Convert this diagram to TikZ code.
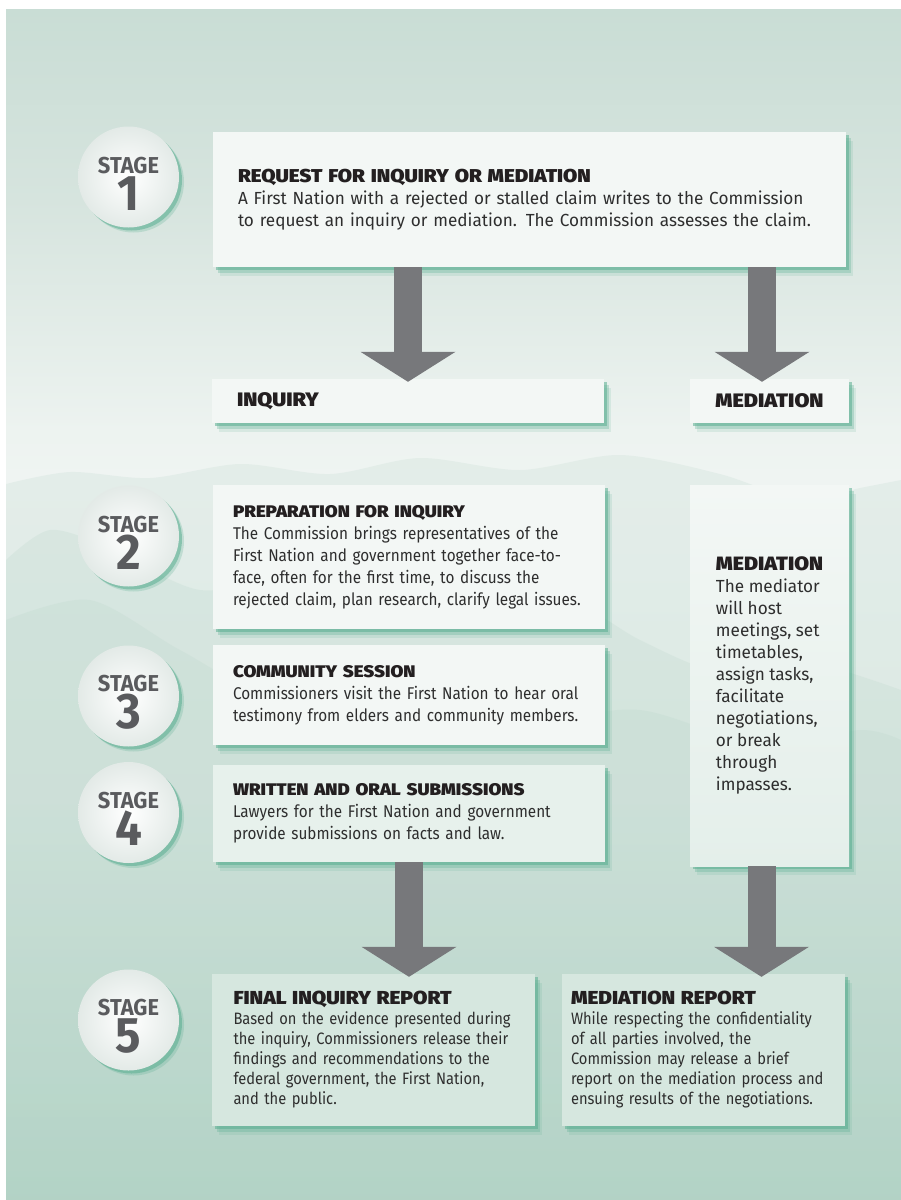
\documentclass[tikz,border=0pt]{standalone}
\usepackage{fontspec}
\usepackage{xcolor}
\usetikzlibrary{arrows.meta,shadows}
\setmainfont{Fira Sans}
\newfontfamily\bodyfont{Fira Sans}[FakeStretch=0.9]
\newfontfamily\widefont{Fira Sans}[FakeStretch=0.98]
\newfontfamily\narrowfont{Fira Sans}[FakeStretch=0.89]
\IfFontExistsTF{Fira Sans Black}
  {\newfontfamily\headfont{Fira Sans Black}[FakeStretch=1.11]}
  {\IfFontExistsTF{Fira Sans ExtraBold}
    {\newfontfamily\headfont{Fira Sans ExtraBold}[FakeStretch=1.15]}
    {\newfontfamily\headfont{Fira Sans Bold}[FakeStretch=1.2]}}
\newfontfamily\stagefont{Fira Sans Bold}[FakeStretch=0.95]
\hyphenpenalty=10000

\definecolor{bgtop}{HTML}{C9DDD5}
\definecolor{bgupper}{HTML}{D6E4DE}
\definecolor{bglight}{HTML}{EDF3F0}
\definecolor{bgmist}{HTML}{EFF4F2}
\definecolor{bglow}{HTML}{E4EEEA}
\definecolor{bgbottom}{HTML}{A8CFBF}
\definecolor{ridge}{HTML}{BCD7CC}
\definecolor{paper}{HTML}{F3F7F5}
\definecolor{paperlow}{HTML}{E4EFEA}
\definecolor{papergreen}{HTML}{D6E7DF}
\definecolor{glow}{HTML}{5BAF92}
\definecolor{discedge}{HTML}{E3EAE7}
\definecolor{arrowgrey}{HTML}{77787B}
\definecolor{ink}{HTML}{231F20}
\definecolor{bodyink}{HTML}{2E2E2E}
\definecolor{stageink}{HTML}{5A5B5E}

\pgfdeclareverticalshading{panelshade}{100bp}{color(0bp)=(bgbottom); color(25bp)=(bgbottom);
  color(41.8bp)=(bglow); color(55.2bp)=(bgmist); color(57.3bp)=(bglight);
  color(67bp)=(bgupper); color(75bp)=(bgtop); color(100bp)=(bgtop)}

\newcommand\heading[2][16.8]{{\headfont\fontsize{#1}{22}\selectfont\color{ink}#2}\\}
\newcommand\stagetext[1]{{\fontsize{23}{23}\selectfont\rule{0pt}{29pt}STAGE}\\#1}

\begin{document}
\begin{tikzpicture}[x=1pt, y=-1pt,
  panel/.style={rectangle, fill=paper, text=bodyink, align=left, inner xsep=20pt, inner ysep=0pt,
    font=\bodyfont\fontsize{17}{22}\selectfont,
    drop shadow={shadow xshift=7pt, shadow yshift=-9pt, fill=glow, opacity=.15},
    drop shadow={shadow xshift=5pt, shadow yshift=-6pt, fill=glow, opacity=.3},
    drop shadow={shadow xshift=3pt, shadow yshift=-3pt, fill=glow, opacity=.55}},
  report/.style={panel, fill=papergreen, font=\narrowfont\fontsize{16.5}{20}\selectfont,
    minimum height=152pt},
  tag/.style={panel, text=ink, minimum height=44pt, font=\headfont\fontsize{19.5}{22}\selectfont},
  stage/.style={circle, minimum size=101pt, inner sep=0pt, inner color=white, outer color=discedge,
    align=center, text=stageink, font=\stagefont\fontsize{50}{37}\selectfont,
    drop shadow={shadow xshift=5pt, shadow yshift=-5pt, fill=glow, opacity=.25},
    drop shadow={shadow xshift=3pt, shadow yshift=-3pt, fill=glow, opacity=.55}},
  bigarrow/.style={draw=arrowgrey, line width=28pt, shorten >=-3pt,
    -{Triangle[width=95pt, length=30pt, line width=0pt]}}]
  \useasboundingbox (0,0) rectangle (901,1200);
  \fill[shading=panelshade] (6,9) rectangle (901,1200);
  \fill[ridge, opacity=.22] plot[smooth] coordinates {(6,484) (70,472) (150,478) (240,464) (330,474)
    (420,458) (520,470) (620,455) (720,474) (800,500) (860,488) (901,480)} -- (901,1200) -- (6,1200) -- cycle;
  \fill[ridge, opacity=.25] plot[smooth] coordinates {(6,560) (50,530) (110,548) (200,590) (300,575)
    (420,600) (540,585) (640,640) (720,672) (800,660) (901,690)} -- (901,1200) -- (6,1200) -- cycle;
  \fill[ridge, opacity=.25] plot[smooth] coordinates {(6,620) (90,600) (180,650) (280,700) (400,690)
    (520,720) (640,710) (760,745) (860,730) (901,740)} -- (901,1200) -- (6,1200) -- cycle;

  \node[stage] (stage1) at (128.5,177) {\stagetext{1}};
  \node[stage] (stage2) at (128.5,536) {\stagetext{2}};
  \node[stage] (stage3) at (128.5,696) {\stagetext{3}};
  \node[stage] (stage4) at (128.5,812.5) {\stagetext{4}};
  \node[stage] (stage5) at (128.5,1020) {\stagetext{5}};

  \node[panel, font=\widefont\fontsize{17.5}{22}\selectfont, inner xsep=25pt, text width=583pt,
    minimum height=135pt] (req) at (529.5,199.5)
    {\heading[18.6]{REQUEST FOR INQUIRY OR MEDIATION}A First Nation with a rejected or stalled claim writes to the Commission\\
     to request an inquiry or mediation. The Commission assesses the claim.};
  \node[tag, inner xsep=25pt, text width=342pt] (inq) at (408,401) {INQUIRY};
  \node[tag, inner xsep=0pt, minimum width=159pt] (med) at (769.5,401) {MEDIATION};

  \node[panel, text width=352pt, minimum height=144pt] (prep) at (409,557)
    {\heading{PREPARATION FOR INQUIRY}The Commission brings representatives of the\\
     First Nation and government together face-to-\\face, often for the first time, to discuss the\\
     rejected claim, plan research, clarify legal issues.};
  \node[panel, text width=352pt, minimum height=100pt] (comm) at (409,695)
    {\heading{COMMUNITY SESSION}Commissioners visit the First Nation to hear oral\\
     testimony from elders and community members.};
  \node[panel, fill=paper!60!papergreen, text width=352pt, minimum height=97pt] (subm) at (409,813.5)
    {\heading{WRITTEN AND ORAL SUBMISSIONS}Lawyers for the First Nation and government\\
     provide submissions on facts and law.};
  \node[panel, font=\widefont\fontsize{17.5}{22}\selectfont, top color=paper, bottom color=paperlow,
    inner xsep=0pt, minimum width=159pt, minimum height=381pt] (medbody) at (769.5,675.5)
    {\heading[19.3]{MEDIATION}The mediator\\will host\\meetings, set\\timetables,\\assign tasks,\\facilitate\\
     negotiations,\\or break\\through\\impasses.};

  \node[report, text width=280pt, inner xsep=21.5pt] (finalrep) at (373.5,1050)
    {\heading[18.8]{FINAL INQUIRY REPORT}Based on the evidence presented during\\the inquiry, Commissioners release their\\
     findings and recommendations to the\\federal government, the First Nation,\\and the public.};
  \node[report, text width=265pt, inner xsep=9pt] (medrep) at (703.5,1050)
    {\heading[18.8]{MEDIATION REPORT}While respecting the confidentiality\\of all parties involved, the\\
     Commission may release a brief\\report on the mediation process and\\ensuing results of the negotiations.};

  \draw[bigarrow] (req.south -| inq.north) -- (inq.north);
  \draw[bigarrow, transform canvas={xshift=-7.5pt}] (req.south -| med.north) -- (med.north);
  \draw[bigarrow] (subm.south) -- (subm.south |- finalrep.north);
  \draw[bigarrow, transform canvas={xshift=-8pt}] (medbody.south) -- (medbody.south |- medrep.north);
\end{tikzpicture}
\end{document}
